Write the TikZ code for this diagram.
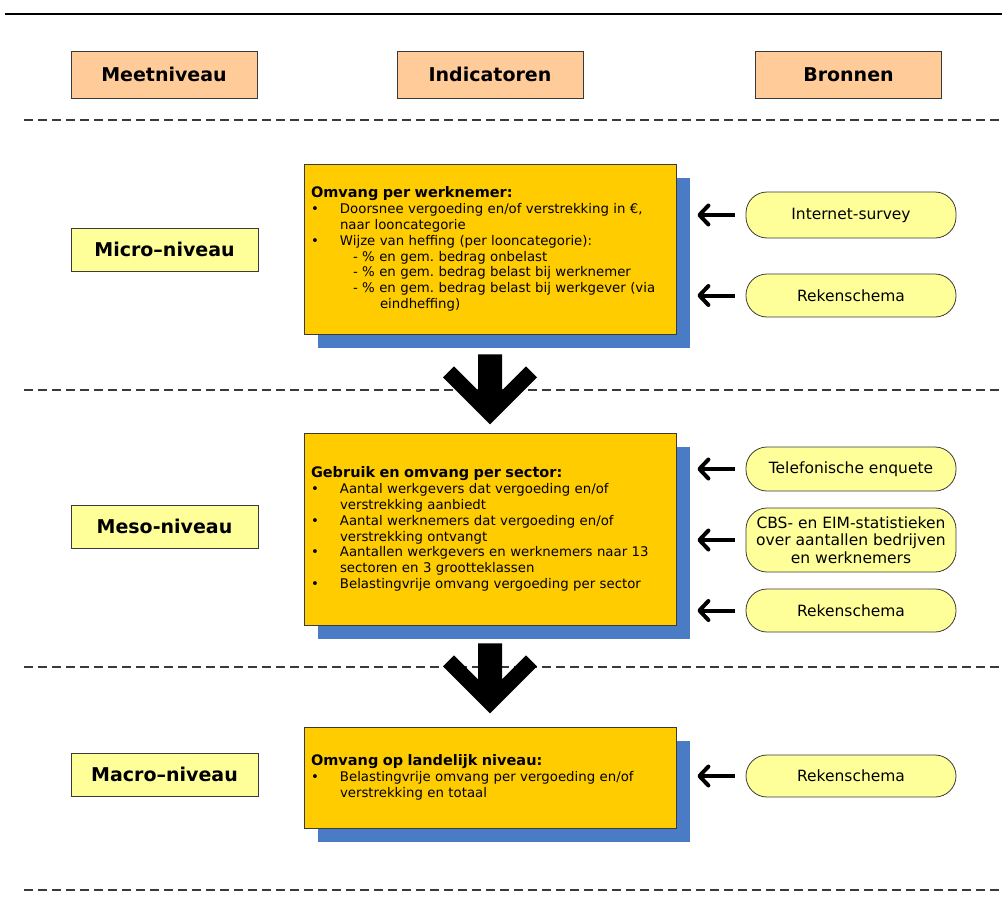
\documentclass[tikz,border=0pt]{standalone}
\usepackage{fontspec}
\setmainfont{DejaVu Sans}
\usepackage{xcolor}
\usetikzlibrary{arrows.meta,shadows}

\definecolor{kopfill}{HTML}{FFCC99}
\definecolor{niveaufill}{HTML}{FFFF99}
\definecolor{indfill}{HTML}{FFCC00}
\definecolor{schaduw}{HTML}{4A7BC5}
\definecolor{rand}{HTML}{3A3A3A}

%% bullet line and sub line inside the indicator boxes
\newcommand{\indbul}[1]{\par\hangindent=29pt\hangafter=1\noindent\makebox[29pt][l]{\textbullet}#1\par}
\newcommand{\indsub}[1]{\par\hangindent=69pt\hangafter=1\noindent\hspace*{42pt}- #1\par}

\begin{document}
\begin{tikzpicture}[x=1pt, y=-1pt,
    kop/.style={rectangle, draw=rand, fill=kopfill, line width=0.8pt, minimum width=186pt, minimum height=47pt, font=\fontsize{19}{21}\selectfont\bfseries},
    niveau/.style={rectangle, draw=rand, fill=niveaufill, line width=0.8pt, minimum width=187pt, minimum height=43pt, font=\fontsize{19}{21}\selectfont\bfseries},
    indbox/.style={rectangle, draw=rand, fill=indfill, line width=0.8pt, text width=358pt, inner xsep=7pt, inner ysep=0pt, align=left, font=\fontsize{13.3}{15.8}\selectfont\frenchspacing, drop shadow={shadow xshift=14pt, shadow yshift=-14pt, fill=schaduw, opacity=1, draw=none}},
    bron/.style={rectangle, draw=rand, fill=niveaufill, line width=0.8pt, rounded corners=21pt, minimum width=210pt, minimum height=43pt, align=center, font=\fontsize{15.5}{17.5}\selectfont},
    bronpijl/.style={line width=4pt, -{Straight Barb[round, length=9pt, width=19pt]}, shorten <=11pt, shorten >=21pt},
    scheiding/.style={rand, line width=1.3pt, dash pattern=on 9pt off 5pt},
    bigarrow/.pic={\fill (-12,0) -- (12,0) -- (12,36) -- (36,12) -- (47,23) -- (0,70) -- (-47,23) -- (-36,12) -- (-12,36) -- cycle;}]
    \useasboundingbox (0,0) rectangle (1002,921);
%    \draw [help lines, opacity=0.5, step=50] (0,0) grid (1000,920);

    \draw [line width=2.5pt] (5,14) -- (1002,14);
    \foreach \y in {120,390,667,890} \draw [scheiding] (24,\y) -- (1000,\y);

    %% column headers
    \node (hdr1) [kop] at (164,74.5) {Meetniveau};
    \node (hdr2) [kop] at (490,74.5) {Indicatoren};
    \node (hdr3) [kop] at (848.5,74.5) {Bronnen};

    %% measurement levels
    \node (micro) [niveau] at (164.5,249.5) {Micro–niveau};
    \node (meso) [niveau] at (164.5,526.5) {Meso-niveau};
    \node (macro) [niveau] at (164.5,774.5) {Macro–niveau};

    %% indicators
    \node (ind1) [indbox, minimum height=170pt] at (490,249) {%
      {\fontsize{14.5}{17}\selectfont\bfseries Omvang per werknemer:\par}
      \indbul{Doorsnee vergoeding en/of verstrekking in €,\newline naar looncategorie}
      \indbul{Wijze van heffing (per looncategorie):}
      \indsub{\% en gem. bedrag onbelast}
      \indsub{\% en gem. bedrag belast bij werknemer}
      \indsub{\% en gem. bedrag belast bij werkgever (via\newline eindheffing)}};
    \node (ind2) [indbox, minimum height=192pt] at (490,529) {%
      {\fontsize{14.5}{17}\selectfont\bfseries Gebruik en omvang per sector:\par}
      \indbul{Aantal werkgevers dat vergoeding en/of\newline verstrekking aanbiedt}
      \indbul{Aantal werknemers dat vergoeding en/of\newline verstrekking ontvangt}
      \indbul{Aantallen werkgevers en werknemers naar 13\newline sectoren en 3 grootteklassen}
      \indbul{Belastingvrije omvang vergoeding per sector}};
    \node (ind3) [indbox, minimum height=101pt] at (490,777.5) {%
      {\fontsize{14.5}{17}\selectfont\bfseries Omvang op landelijk niveau:\par}
      \indbul{Belastingvrije omvang per vergoeding en/of\newline verstrekking en totaal}};

    \path (ind1.south) ++(0,20) pic {bigarrow};
    \path (ind2.south) ++(0,18) pic {bigarrow};

    %% sources
    \node (src1) [bron, minimum height=46pt] at (851,215) {Internet-survey};
    \node (src2) [bron] at (851,295.5) {Rekenschema};
    \node (src3) [bron, minimum height=44pt] at (851,469) {Telefonische enquete};
    \node (src4) [bron, minimum height=64pt] at (851,540) {CBS- en EIM-statistieken\\over aantallen bedrijven\\en werknemers};
    \node (src5) [bron] at (851,610.5) {Rekenschema};
    \node (src6) [bron, minimum height=42pt] at (851,776) {Rekenschema};

    \draw [bronpijl] (src1.west) -- (src1.west -| ind1.east);
    \draw [bronpijl] (src2.west) -- (src2.west -| ind1.east);
    \draw [bronpijl] (src3.west) -- (src3.west -| ind2.east);
    \draw [bronpijl] (src4.west) -- (src4.west -| ind2.east);
    \draw [bronpijl] (src5.west) -- (src5.west -| ind2.east);
    \draw [bronpijl] (src6.west) -- (src6.west -| ind3.east);

\end{tikzpicture}
\end{document}
